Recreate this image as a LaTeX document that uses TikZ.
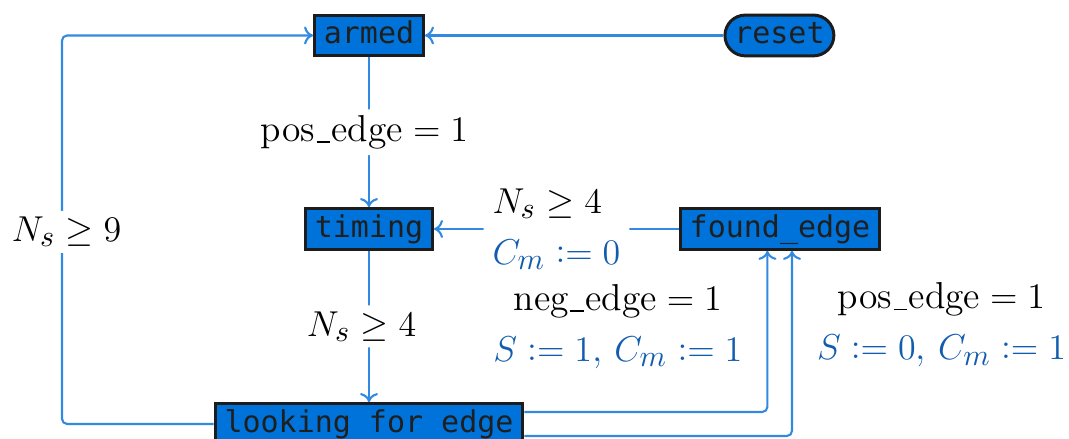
\documentclass[tikz,border=0pt]{standalone}
\usepackage{mathtools}
\usepackage{fontspec}
\setmonofont{DejaVu Sans Mono}
\usetikzlibrary{arrows.meta,calc}
\DeclareMathSizes{12.5}{12.5}{9.6}{7}
\definecolor{nodefill}{RGB}{0,115,218}
\definecolor{nodeborder}{RGB}{28,28,28}
\definecolor{linecol}{RGB}{50,138,224}
\definecolor{actcol}{RGB}{18,92,175}
\newcommand\usc{\kern0.04em\rule[-0.5pt]{0.36em}{0.5pt}\kern0.04em}
\newcommand\asg{\mathrel{\vcentcolon}=}
\begin{document}
\begin{tikzpicture}[x=1pt,y=1pt,
  stbox/.style={draw=nodeborder, line width=1pt, fill=nodefill,
    font=\ttfamily\fontsize{10}{12}\selectfont, text=black!88,
    minimum height=13.6pt, inner xsep=3.1pt, inner ysep=0pt,
    text height=7.6pt, text depth=2.2pt},
  conn/.style={draw=linecol, line width=0.7pt, -{To[length=3pt,width=6pt]}, rounded corners=1.7pt},
  lab/.style={font=\fontsize{12.5}{17}\selectfont, fill=white, align=center, inner xsep=3pt, inner ysep=2pt},
  act/.style={text=actcol}]
\useasboundingbox (0,0) rectangle (356.33,146.33);

\node[stbox] (armed) at (123,134.5) {armed};
\node[stbox, rounded corners=6.8pt] (reset) at (259.8,134.5) {reset};
\node[stbox] (timing) at (123,70) {timing};
\node[stbox] (found) at (260,70) {found\_edge};
\node[stbox] (looking) at (123,5) {looking for edge};
\coordinate (loopL) at (20.67,70);

\draw[conn] (reset.west) -- (armed.east);
\draw[conn] (armed.south) -- node[lab, xshift=-1.5pt] (l1) {pos\usc edge${}=1$} (timing.north);
\draw[conn] (timing.south) -- node[lab, xshift=-2.5pt] (l2) {$N_s\geq 4$} (looking.north);
\draw[conn] (found.west) -- node[lab, align=left] (l3) {$N_s\geq 4$\\ {\color{actcol}$C_m\asg 0$}} (timing.east);
\draw[conn] ($(looking.east)+(0,4)$) -| node[lab, pos=0.765, anchor=east, xshift=-5pt] (l4) {neg\usc edge${}=1$\\ {\color{actcol}$S\asg 1$, $C_m\asg 1$}} ($(found.south)+(-4.2,0)$);
\draw[conn] ($(looking.east)+(0,-4)$) -| node[lab, pos=0.8, anchor=west, xshift=5pt] (l5) {pos\usc edge${}=1$\\ {\color{actcol}$S\asg 0$, $C_m\asg 1$}} ($(found.south)+(4,0)$);
\draw[conn] (looking.west) -| (loopL) node[lab, xshift=1.5pt, yshift=-1pt] (l6) {$N_s\geq 9$} |- (armed.west);
\end{tikzpicture}
\end{document}
